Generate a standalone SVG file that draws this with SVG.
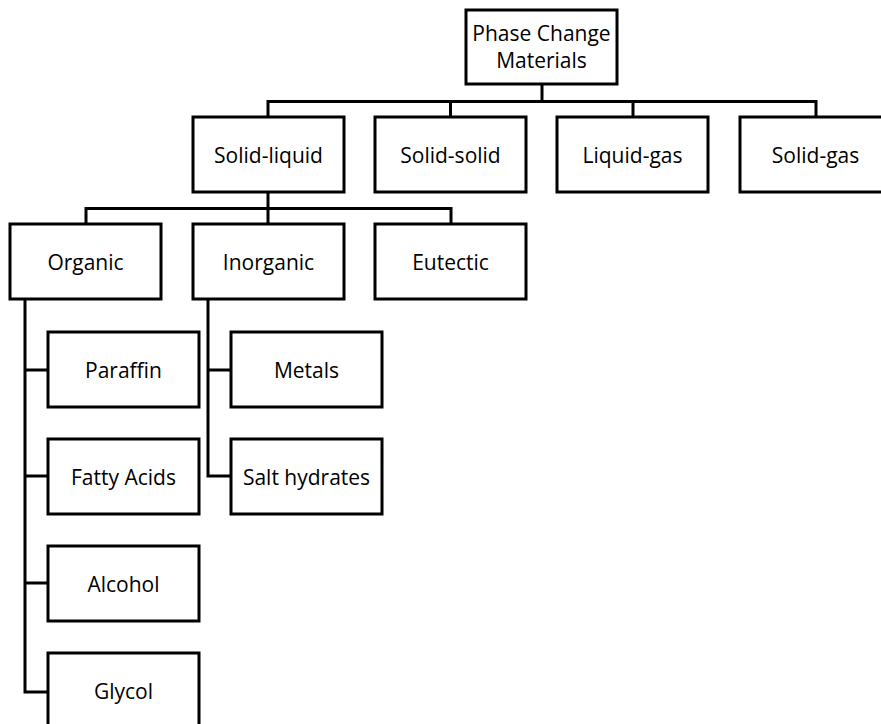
<svg xmlns="http://www.w3.org/2000/svg" width="881" height="724" viewBox="0 0 881 724">
<style>
rect.box{fill:#fff;stroke:#000;stroke-width:3}
.c{fill:none;stroke:#000;stroke-width:3}
text{font-family:"Open Sans","Noto Sans",sans-serif;font-size:21px;fill:#000;text-anchor:middle;dominant-baseline:central}
</style>
<rect width="881" height="724" fill="#fff"/>
<g id="connectors" class="c">
<path d="M542 84V101.5M268 117V101.5H816V117M450.5 101.5V117M633 101.5V117"/>
<path d="M268 192V208.5M86 224V208.5H451V224M268 208.5V224"/>
<path d="M25 299V692H48M25 370H48M25 476H48M25 583H48"/>
<path d="M208 299V476H231M208 370H231"/>
</g>
<g id="pcm"><rect class="box" x="466" y="10" width="151" height="74"/><text x="541.5" y="32.5">Phase Change</text><text x="541.5" y="59.5">Materials</text></g>
<g id="solid-liquid"><rect class="box" x="193" y="117" width="151" height="75"/><text x="268.5" y="154.5">Solid-liquid</text></g>
<g id="solid-solid"><rect class="box" x="375" y="117" width="151" height="75"/><text x="450.5" y="154.5">Solid-solid</text></g>
<g id="liquid-gas"><rect class="box" x="557" y="117" width="151" height="75"/><text x="632.5" y="154.5">Liquid-gas</text></g>
<g id="solid-gas"><rect class="box" x="740" y="117" width="151" height="75"/><text x="815.5" y="154.5">Solid-gas</text></g>
<g id="organic"><rect class="box" x="10" y="224" width="151" height="75"/><text x="85.5" y="261.5">Organic</text></g>
<g id="inorganic"><rect class="box" x="193" y="224" width="151" height="75"/><text x="268.5" y="261.5">Inorganic</text></g>
<g id="eutectic"><rect class="box" x="375" y="224" width="151" height="75"/><text x="450.5" y="261.5">Eutectic</text></g>
<g id="paraffin"><rect class="box" x="48" y="332" width="151" height="75"/><text x="123.5" y="369.5">Paraffin</text></g>
<g id="fatty-acids"><rect class="box" x="48" y="439" width="151" height="75"/><text x="123.5" y="476.5">Fatty Acids</text></g>
<g id="alcohol"><rect class="box" x="48" y="546" width="151" height="75"/><text x="123.5" y="583.5">Alcohol</text></g>
<g id="glycol"><rect class="box" x="48" y="653" width="151" height="75"/><text x="123.5" y="690.5">Glycol</text></g>
<g id="metals"><rect class="box" x="231" y="332" width="151" height="75"/><text x="306.5" y="369.5">Metals</text></g>
<g id="salt-hydrates"><rect class="box" x="231" y="439" width="151" height="75"/><text x="306.5" y="476.5">Salt hydrates</text></g>
</svg>
